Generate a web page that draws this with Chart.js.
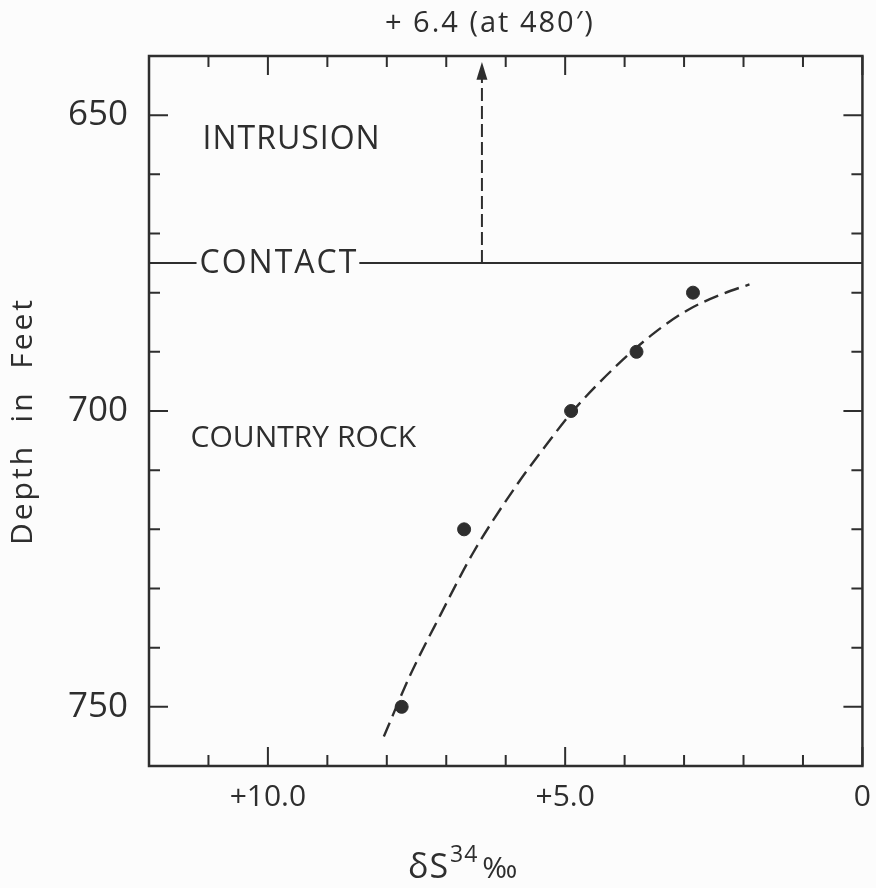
<!DOCTYPE html>
<html>
<head>
<meta charset="utf-8">
<script src="https://cdn.jsdelivr.net/npm/chart.js@4.4.1/dist/chart.umd.min.js"></script>
<style>
  html, body { margin: 0; padding: 0; background: #fcfcfc; }
  #wrap { width: 876px; height: 888px; }
</style>
</head>
<body>
<div id="wrap"><canvas id="chart" width="876" height="888"></canvas></div>
<script>
// sulphur isotope ratio vs depth below the intrusion contact
const sampleDelta = [2.85, 3.8, 4.9, 6.7, 7.75];
const sampleDepth = [680, 690, 700, 720, 750];

// hand-fitted trend through the samples
const curveDelta = [8.05, 7.6, 7.1, 6.55, 5.8, 5.3, 4.87, 4.1, 3.5, 2.95, 2.35, 1.9];
const curveDepth = [755, 744.5, 734.5, 724, 712.3, 705.5, 700, 692, 686.8, 683, 680.2, 678.6];

const CONTACT_DEPTH = 675;
const OFFSCALE_DELTA = 6.4;           // value at 480 ft, above the plotted range
const OFFSCALE_LABEL = '+ 6.4 (at 480′)';

const xTickLabels = { 0: '0', 5: '+5.0', 10: '+10.0' };
const yTickLabels = { 650: '650', 700: '700', 750: '750' };

const INK = '#2e2e2e';
const FONT = '"Open Sans", "DejaVu Sans", sans-serif';

function toPoints(xs, ys) {
  return xs.map((x, i) => ({ x, y: ys[i] }));
}

const annotations = {
  id: 'annotations',
  beforeDatasetsDraw(chart) {
    const { ctx, chartArea: a, scales: { x, y } } = chart;
    ctx.save();
    ctx.fillStyle = INK;
    ctx.strokeStyle = INK;
    ctx.font = `32px ${FONT}`;
    ctx.letterSpacing = '2px';
    ctx.textBaseline = 'middle';
    ctx.textAlign = 'left';

    // contact line, broken by its label
    const cy = y.getPixelForValue(CONTACT_DEPTH);
    const tx = x.getPixelForValue(11.15);
    const tw = ctx.measureText('CONTACT').width;
    ctx.lineWidth = 2;
    ctx.beginPath();
    ctx.moveTo(a.left, cy);
    ctx.lineTo(tx - 3, cy);
    ctx.moveTo(tx + tw + 1, cy);
    ctx.lineTo(a.right, cy);
    ctx.stroke();
    ctx.fillText('CONTACT', tx, cy + 1);

    ctx.letterSpacing = '1px';
    ctx.fillText('INTRUSION', x.getPixelForValue(11.1), y.getPixelForValue(654.2));
    ctx.font = `30px ${FONT}`;
    ctx.letterSpacing = '0px';
    ctx.fillText('COUNTRY ROCK', x.getPixelForValue(11.3), y.getPixelForValue(704.6));
    ctx.restore();
  },
  afterDatasetsDraw(chart) {
    const { ctx, chartArea: a, scales: { x, y } } = chart;
    ctx.save();
    ctx.strokeStyle = INK;
    ctx.fillStyle = INK;

    // frame
    ctx.lineWidth = 2.5;
    ctx.strokeRect(a.left, a.top, a.right - a.left, a.bottom - a.top);

    // inward ticks on all four sides
    ctx.lineWidth = 2;
    ctx.beginPath();
    x.ticks.forEach((t) => {
      const px = x.getPixelForValue(t.value);
      const len = t.value % 5 === 0 ? 19 : 11;
      ctx.moveTo(px, a.bottom);
      ctx.lineTo(px, a.bottom - len);
      ctx.moveTo(px, a.top);
      ctx.lineTo(px, a.top + len);
    });
    y.ticks.forEach((t) => {
      const py = y.getPixelForValue(t.value);
      const len = t.value % 50 === 0 ? 19 : 11;
      ctx.moveTo(a.left, py);
      ctx.lineTo(a.left + len, py);
      ctx.moveTo(a.right, py);
      ctx.lineTo(a.right - len, py);
    });
    ctx.stroke();

    // arrow head for the off-scale value
    const ax = x.getPixelForValue(OFFSCALE_DELTA);
    const tip = y.getPixelForValue(641);
    const base = y.getPixelForValue(644);
    ctx.beginPath();
    ctx.moveTo(ax, tip);
    ctx.lineTo(ax - 5.5, base);
    ctx.lineTo(ax + 5.5, base);
    ctx.closePath();
    ctx.fill();

    ctx.font = `29px ${FONT}`;
    ctx.letterSpacing = '2px';
    ctx.textAlign = 'center';
    ctx.textBaseline = 'alphabetic';
    ctx.fillText(OFFSCALE_LABEL, ax + 8, 32);

    // axis titles
    ctx.save();
    ctx.translate(32, 421);
    ctx.rotate(-Math.PI / 2);
    ctx.font = `30px ${FONT}`;
    ctx.letterSpacing = '3px';
    ctx.fillText('Depth  in  Feet', 0, 0);
    ctx.restore();

    ctx.textAlign = 'left';
    ctx.letterSpacing = '1px';
    let tx = 408;
    const by = 878;
    ctx.font = `34px ${FONT}`;
    ctx.fillText('δS', tx, by);
    tx += ctx.measureText('δS').width + 1;
    ctx.font = `23px ${FONT}`;
    ctx.fillText('34', tx, by - 16);
    tx += ctx.measureText('34').width + 4;
    ctx.font = `30px ${FONT}`;
    ctx.fillText('‰', tx, by);
    ctx.restore();
  }
};

new Chart(document.getElementById('chart'), {
  type: 'scatter',
  data: {
    datasets: [
      {
        label: 'Samples',
        data: toPoints(sampleDelta, sampleDepth),
        backgroundColor: INK,
        borderColor: INK,
        pointRadius: 6.5,
        pointHoverRadius: 6.5,
      },
      {
        label: 'Trend',
        type: 'line',
        data: toPoints(curveDelta, curveDepth),
        borderColor: INK,
        borderWidth: 2.4,
        borderDash: [15, 7],
        pointRadius: 0,
        cubicInterpolationMode: 'monotone',
        fill: false,
      },
      {
        label: 'Off-scale',
        type: 'line',
        data: [{ x: OFFSCALE_DELTA, y: CONTACT_DEPTH }, { x: OFFSCALE_DELTA, y: 643.5 }],
        borderColor: INK,
        borderWidth: 2,
        borderDash: [13, 5],
        pointRadius: 0,
        fill: false,
      },
    ],
  },
  options: {
    responsive: false,
    animation: false,
    layout: { padding: { top: 56, right: 11, left: 0, bottom: 0 } },
    plugins: { legend: { display: false }, tooltip: { enabled: false } },
    scales: {
      x: {
        type: 'linear',
        reverse: true,
        min: 0,
        max: 12,
        grid: { display: false },
        border: { display: false },
        afterFit: (s) => { s.height = 122; },
        ticks: {
          stepSize: 1,
          autoSkip: false,
          maxRotation: 0,
          padding: 5,
          color: INK,
          font: { family: FONT, size: 30 },
          callback: (v) => xTickLabels[v] || '',
        },
      },
      y: {
        type: 'linear',
        reverse: true,
        min: 640,
        max: 760,
        grid: { display: false },
        border: { display: false },
        afterFit: (s) => { s.width = 149; },
        ticks: {
          stepSize: 10,
          autoSkip: false,
          padding: 13,
          color: INK,
          font: { family: FONT, size: 35 },
          callback: (v) => yTickLabels[v] || '',
        },
      },
    },
  },
  plugins: [annotations],
});
</script>
</body>
</html>
